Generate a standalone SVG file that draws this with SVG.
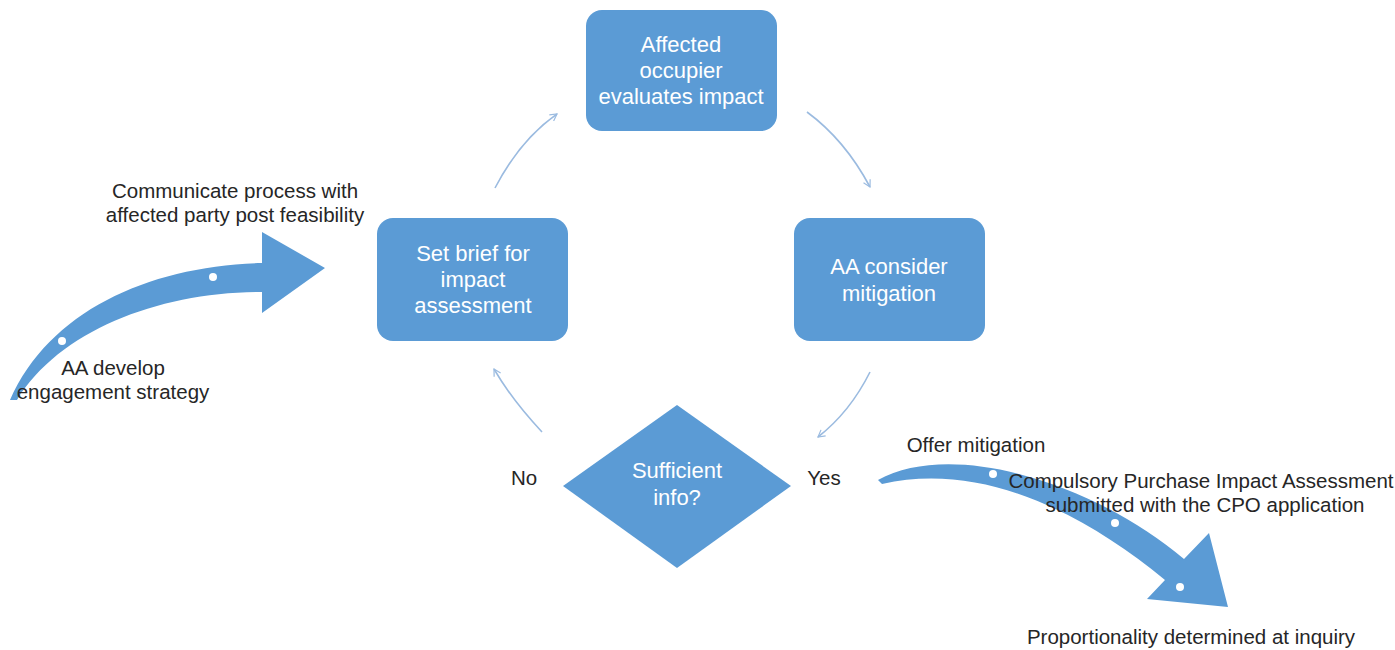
<svg xmlns="http://www.w3.org/2000/svg" width="1395" height="650" viewBox="0 0 1395 650">
  <style>
    .box { fill: #5b9bd5; }
    .ntext { font-family: "Liberation Sans", Arial, sans-serif; font-size: 22px; fill: #ffffff; text-anchor: middle; }
    .label { font-family: "Liberation Sans", Arial, sans-serif; font-size: 20.5px; fill: #262626; text-anchor: middle; }
    .conn { fill: none; stroke: #9bbbe0; stroke-width: 1.6; marker-end: url(#open); }
    .big { fill: #5b9bd5; }
    .dot { fill: #ffffff; }
  </style>
  <defs>
    <marker id="open" viewBox="0 0 12 12" refX="10" refY="6" markerWidth="9" markerHeight="9" markerUnits="userSpaceOnUse" orient="auto">
      <path d="M1,1 L10,6 L1,11" fill="none" stroke="#9bbbe0" stroke-width="1.6"/>
    </marker>
  </defs>
  <rect width="1395" height="650" fill="#ffffff"/>

  <g id="arrow-engagement">
    <path class="big" d="M 10,400 C 50,310 150,266 262,263 L 262,232 L 325,268 L 262,313 L 262,292 C 160,292 60,330 17,400 Z"/>
    <circle class="dot" cx="213" cy="277" r="4"/>
    <circle class="dot" cx="62" cy="341" r="4"/>
  </g>

  <g id="arrow-outcome">
    <path class="big" d="M 878,480 C 950,440 1090,480 1184,559 L 1209,533 L 1228,607 L 1147,599 L 1165,580 C 1080,510 980,462 882,484 Z"/>
    <circle class="dot" cx="993" cy="474" r="4"/>
    <circle class="dot" cx="1115" cy="523" r="4"/>
    <circle class="dot" cx="1180" cy="587" r="4"/>
  </g>

  <g id="connectors">
    <path class="conn" d="M 495,188 Q 520,140 557,114"/>
    <path class="conn" d="M 807,112 Q 845,140 870,187"/>
    <path class="conn" d="M 870,372 Q 850,412 818,437"/>
    <path class="conn" d="M 542,432 Q 512,400 494,369"/>
  </g>

  <g id="node-evaluate">
    <rect class="box" x="586" y="10" width="191" height="121" rx="16"/>
    <text class="ntext" x="681" y="52">Affected</text>
    <text class="ntext" x="681" y="78">occupier</text>
    <text class="ntext" x="681" y="104">evaluates impact</text>
  </g>

  <g id="node-brief">
    <rect class="box" x="377" y="218" width="191" height="123" rx="16"/>
    <text class="ntext" x="473" y="261">Set brief for</text>
    <text class="ntext" x="473" y="287">impact</text>
    <text class="ntext" x="473" y="313">assessment</text>
  </g>

  <g id="node-mitigation">
    <rect class="box" x="794" y="218" width="191" height="123" rx="16"/>
    <text class="ntext" x="889" y="274">AA consider</text>
    <text class="ntext" x="889" y="301">mitigation</text>
  </g>

  <g id="node-decision">
    <polygon class="box" points="677,405 791,486 677,568 563,486"/>
    <text class="ntext" x="677" y="478">Sufficient</text>
    <text class="ntext" x="677" y="505">info?</text>
  </g>

  <g id="labels">
    <text class="label" x="235" y="198">Communicate process with</text>
    <text class="label" x="235" y="222">affected party post feasibility</text>
    <text class="label" x="113" y="375">AA develop</text>
    <text class="label" x="113" y="399">engagement strategy</text>
    <text class="label" x="524" y="485">No</text>
    <text class="label" x="824" y="485">Yes</text>
    <text class="label" x="976" y="452">Offer mitigation</text>
    <text class="label" x="1201" y="488">Compulsory Purchase Impact Assessment</text>
    <text class="label" x="1205" y="512">submitted with the CPO application</text>
    <text class="label" x="1191" y="644">Proportionality determined at inquiry</text>
  </g>
</svg>
